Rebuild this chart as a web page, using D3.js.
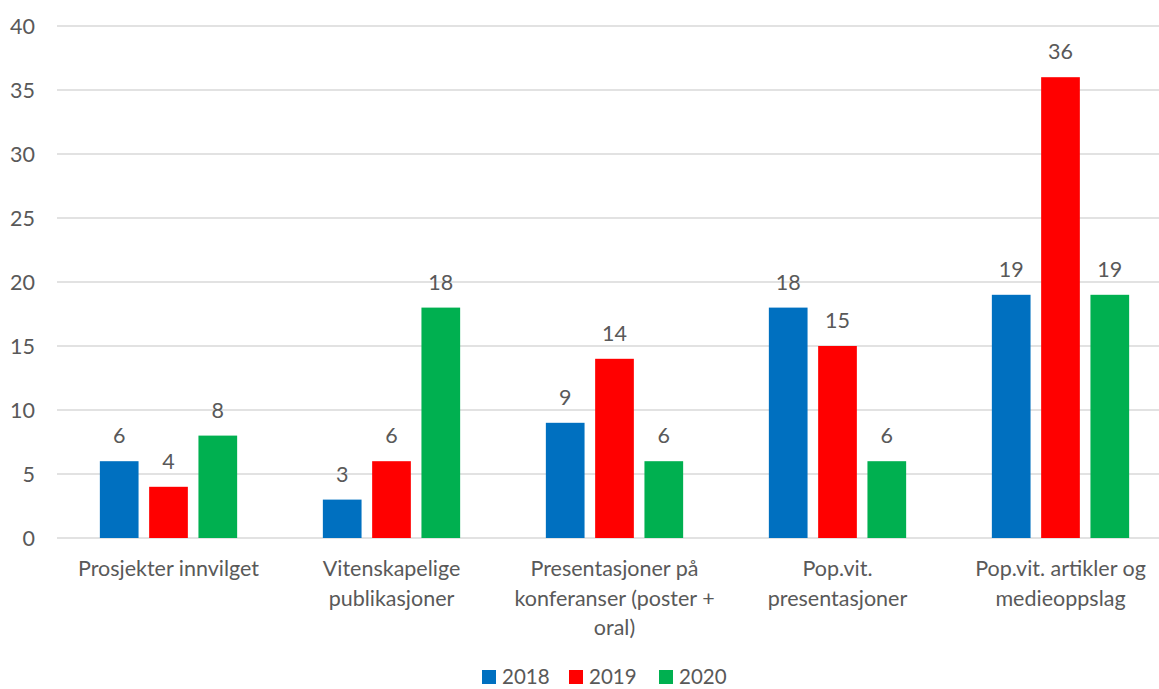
<!DOCTYPE html>
<html><head><meta charset="utf-8">
<script src="https://cdn.jsdelivr.net/npm/d3@7"></script>
<style>body{margin:0;background:#fff;} text{font-family:Lato, "Open Sans", sans-serif;fill:#595959;}</style>
</head><body><svg id="c" width="1159" height="689"></svg>
<script>
const categories = [
  ["Prosjekter innvilget"],
  ["Vitenskapelige","publikasjoner"],
  ["Presentasjoner på","konferanser (poster +","oral)"],
  ["Pop.vit.","presentasjoner"],
  ["Pop.vit. artikler og","medieoppslag"]
];
const seriesNames = ["2018","2019","2020"];
const colors = ["#0070C0","#FF0000","#00B050"];
const v2018 = [6,3,9,18,19];
const v2019 = [4,6,14,15,36];
const v2020 = [8,18,6,6,19];
const yTicks = [0,5,10,15,20,25,30,35,40];
const series = [v2018,v2019,v2020];

const FS = 21.5;
const svg = d3.select("#c");
const x0 = d3.scaleBand().domain(d3.range(categories.length)).range([57,1172]);
const GW = 137.3;
const x1 = d3.scaleBand().domain(d3.range(3)).range([0,GW]).paddingInner(0.215);
const y = d3.scaleLinear().domain([0,40]).range([538,26]);

// gridlines
svg.append("g").selectAll("line").data(yTicks).join("line")
  .attr("x1",57).attr("x2",1159).attr("y1",d=>y(d)).attr("y2",d=>y(d))
  .attr("stroke","#d9d9d9").attr("stroke-width",1.3);

const yAxis = d3.axisLeft(y).tickValues(yTicks).tickSize(0).tickPadding(0);
const ga = svg.append("g").attr("transform","translate(35,0)").call(yAxis);
ga.select(".domain").remove();
ga.selectAll("text").attr("font-size",FS).attr("fill","#595959").style("font-family","Lato, sans-serif").attr("dy","0.35em");

const groups = svg.append("g").selectAll("g").data(categories).join("g")
  .attr("transform",(d,i)=>`translate(${x0(i)+x0.bandwidth()/2-GW/2},0)`);
groups.each(function(cat,i){
  const g = d3.select(this);
  series.forEach((s,j)=>{
    g.append("rect").attr("x",x1(j)).attr("width",x1.bandwidth())
      .attr("y",y(s[i])).attr("height",y(0)-y(s[i])).attr("fill",colors[j]);
    g.append("text").attr("x",x1(j)+x1.bandwidth()/2).attr("y",y(s[i])-18)
      .attr("text-anchor","middle").attr("font-size",FS).text(s[i]);
  });
});

// category labels
const lab = svg.append("g").selectAll("text").data(categories).join("text")
  .attr("text-anchor","middle").attr("font-size",FS)
  .attr("transform",(d,i)=>`translate(${x0(i)+x0.bandwidth()/2},576)`);
lab.each(function(lines){
  d3.select(this).selectAll("tspan").data(lines).join("tspan")
    .attr("x",0).attr("y",(d,k)=>k*29.5).text(d=>d);
});

// legend
const legX = [482,569,659];
const leg = svg.append("g").selectAll("g").data(seriesNames).join("g")
  .attr("transform",(d,i)=>`translate(${legX[i]},677)`);
leg.append("rect").attr("x",0).attr("y",-7).attr("width",14).attr("height",14).attr("fill",(d,i)=>colors[i]);
leg.append("text").attr("x",20).attr("y",0).attr("dy","0.35em").attr("font-size",20.5).text(d=>d);
</script></body></html>
